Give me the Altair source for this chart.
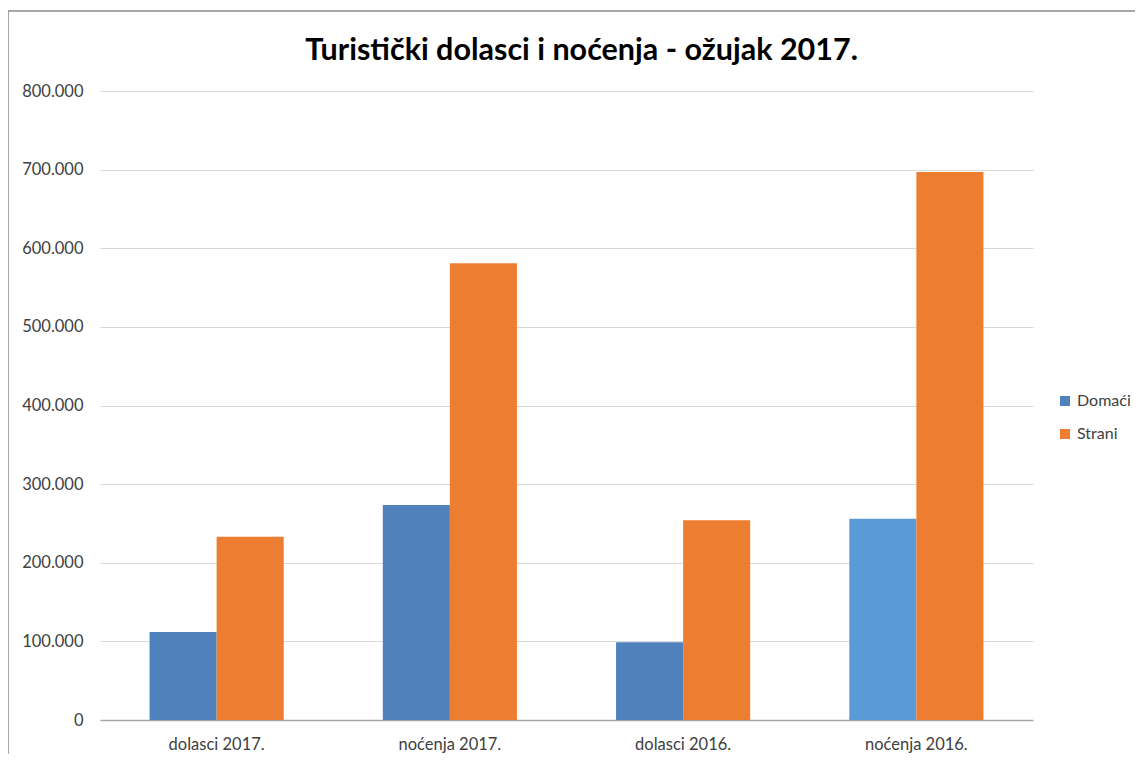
import altair as alt
import pandas as pd

categories = ["dolasci 2017.", "noćenja 2017.", "dolasci 2016.", "noćenja 2016."]
series = ["Domaći", "Strani"]
domaci = [112000, 273500, 99000, 256000]
strani = [233000, 581000, 254000, 697000]
y_ticks = [0, 100000, 200000, 300000, 400000, 500000, 600000, 700000, 800000]

rows = []
for c, d, s in zip(categories, domaci, strani):
    rows.append({"cat": c, "series": "Domaći", "value": d})
    rows.append({"cat": c, "series": "Strani", "value": s})
df = pd.DataFrame(rows)

FONT = "Lato"
TXT = "#404040"

bars = alt.Chart(df).mark_bar().encode(
    x=alt.X(
        "cat:N", sort=categories, title=None,
        scale=alt.Scale(paddingInner=0.425, paddingOuter=0.2125),
        axis=alt.Axis(labelAngle=0, labelFont=FONT, labelFontSize=16.5, labelColor=TXT,
                      labelPadding=16, ticks=False, domainColor="#a6a6a6", domainWidth=1.5,
                      grid=False),
    ),
    xOffset=alt.XOffset("series:N", sort=series, scale=alt.Scale(paddingInner=0, paddingOuter=0)),
    y=alt.Y(
        "value:Q", title=None,
        scale=alt.Scale(domain=[0, 800000], nice=False),
        axis=alt.Axis(values=y_ticks, format=",d", labelFont=FONT, labelFontSize=16.5,
                      labelColor=TXT, labelPadding=17, ticks=False, domain=False,
                      gridColor="#d9d9d9", gridWidth=1.2),
    ),
    color=alt.condition(
        "datum.cat == 'noćenja 2016.' && datum.series == 'Domaći'",
        alt.value("#5B9BD5"),
        alt.Color(
            "series:N", sort=series,
            scale=alt.Scale(domain=series, range=["#4F81BD", "#ED7D31"]),
            legend=alt.Legend(title=None, orient="none", legendX=957, legendY=302,
                              padding=0,
                              symbolType="square", symbolSize=100, symbolStrokeWidth=0,
                              labelFont=FONT, labelFontSize=16, labelColor=TXT,
                              rowPadding=17, labelOffset=4),
        ),
    ),
)

frame = alt.Chart(pd.DataFrame({"a": [0]})).mark_rect(
    filled=False, stroke="#8c8c8c", strokeWidth=1.5
).encode(
    x=alt.value(-92), x2=alt.value(1200), y=alt.value(-80), y2=alt.value(900)
)

chart = alt.layer(frame, bars).properties(
    width=933,
    height=629,
    padding={"left": 92, "top": 83, "right": 102, "bottom": 34},
    autosize=alt.AutoSizeParams(type="none"),
    title=alt.Title("Turistički dolasci i noćenja - ožujak 2017.", font=FONT, fontSize=30.5,
                    fontWeight="bold", color="#000000", offset=-56, dx=15, frame="group"),
).configure(
    locale=alt.Locale(number=alt.NumberLocale(decimal=",", thousands=".", grouping=[3],
                                             currency=["", " kn"])),
).configure_view(stroke=None)

chart.save("out.html", embed_options={"renderer": "svg", "actions": False})
